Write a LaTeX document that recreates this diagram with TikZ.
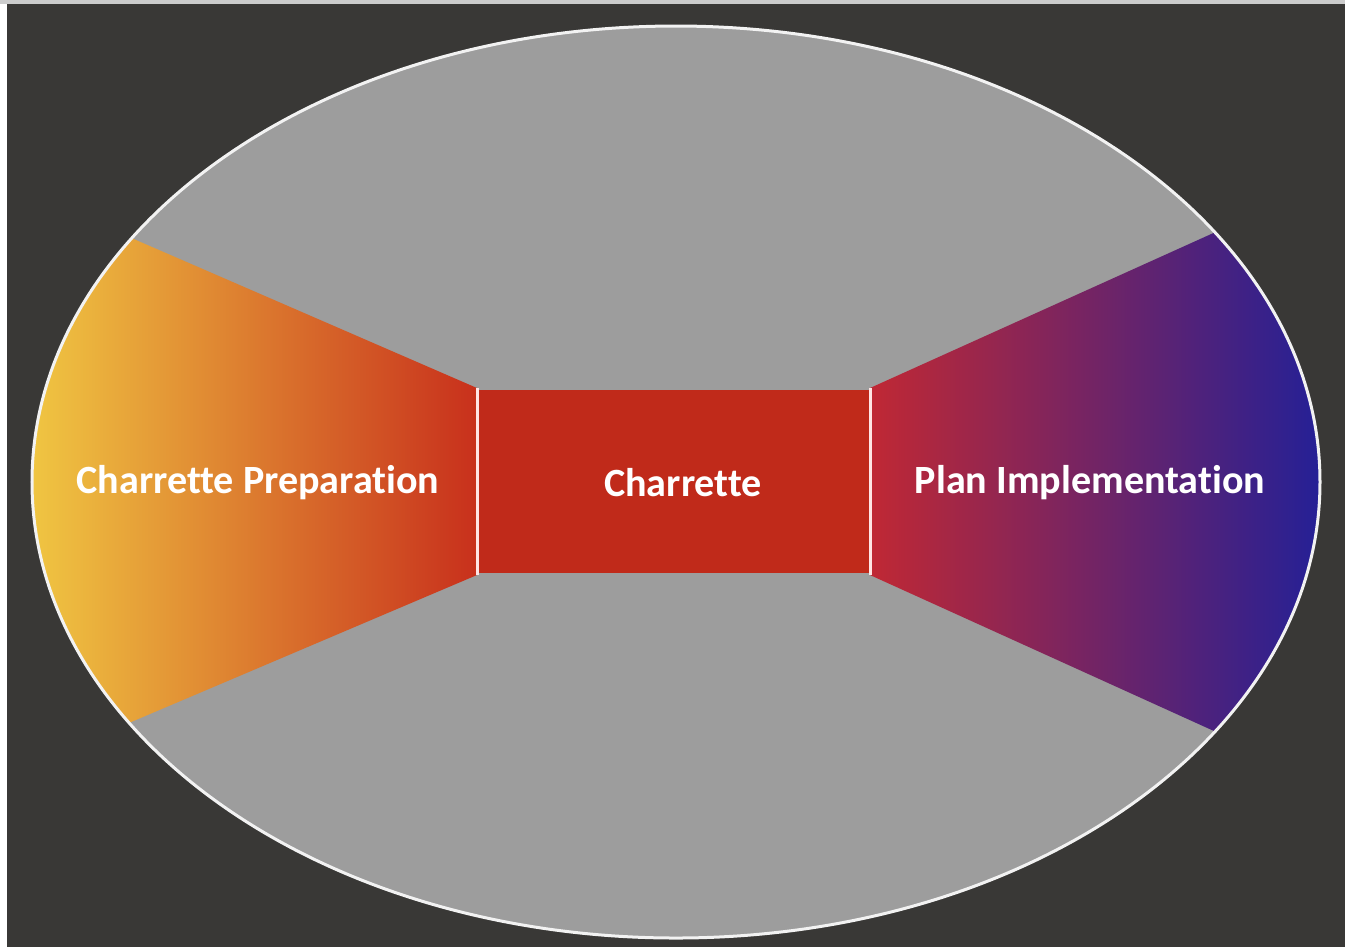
\documentclass[tikz,border=0pt]{standalone}
\usepackage{fontspec}
\setmainfont{Carlito}[Ligatures=NoCommon]

\begin{document}
\begin{tikzpicture}[x=0.01cm,y=-0.01cm]
    \definecolor{chr_back}{RGB}{57,56,54}
    \definecolor{chr_oval}{RGB}{157,157,157}
    \definecolor{chr_red}{RGB}{192,42,26}
    \definecolor{chr_yellow}{RGB}{240,198,66}
    \definecolor{chr_orange}{RGB}{228,132,48}
    \definecolor{chr_rust}{RGB}{200,48,28}
    \definecolor{chr_crimson}{RGB}{192,40,52}
    \definecolor{chr_violet}{RGB}{52,34,142}
    \definecolor{chr_blue}{RGB}{36,32,150}
    \tikzset{label/.style={text=white,font=\bfseries\fontsize{11.4}{13}\selectfont}}
    \useasboundingbox (0,0) rectangle (1345,947);
    \fill[chr_back] (0,0) rectangle (1345,947);
    \fill[white] (0,0) rectangle (7,947);
    \fill[black!20] (0,0) rectangle (1345,4);
    \fill[chr_oval] (676,482) ellipse [x radius=644,y radius=456];
    \begin{scope}
        \clip (676,482) ellipse [x radius=644,y radius=456];
        \shade[left color=chr_yellow,middle color=chr_orange,right color=chr_rust] (30,194) -- (477,388) -- (477,575) -- (30,765) -- cycle;
        \shade[left color=chr_crimson,middle color=chr_violet,right color=chr_blue] (870,388) -- (1322,184) -- (1322,780) -- (870,575) -- cycle;
    \end{scope}
    \fill[chr_red] (478,390) rectangle (869,573);
    \draw[white!90!gray,line width=0.03cm] (676,482) ellipse [x radius=644,y radius=456];
    \draw[white!90!red,line width=0.03cm] (477,388) to (477,575);
    \draw[white!90!red,line width=0.03cm] (870,388) to (870,575);
    \node[label] (prep) at (258,483) {Charrette Preparation};
    \node[label] (char) at (683,483) {Charrette};
    \node[label] (impl) at (1090,483) {Plan Implementation};
\end{tikzpicture}
\end{document}
